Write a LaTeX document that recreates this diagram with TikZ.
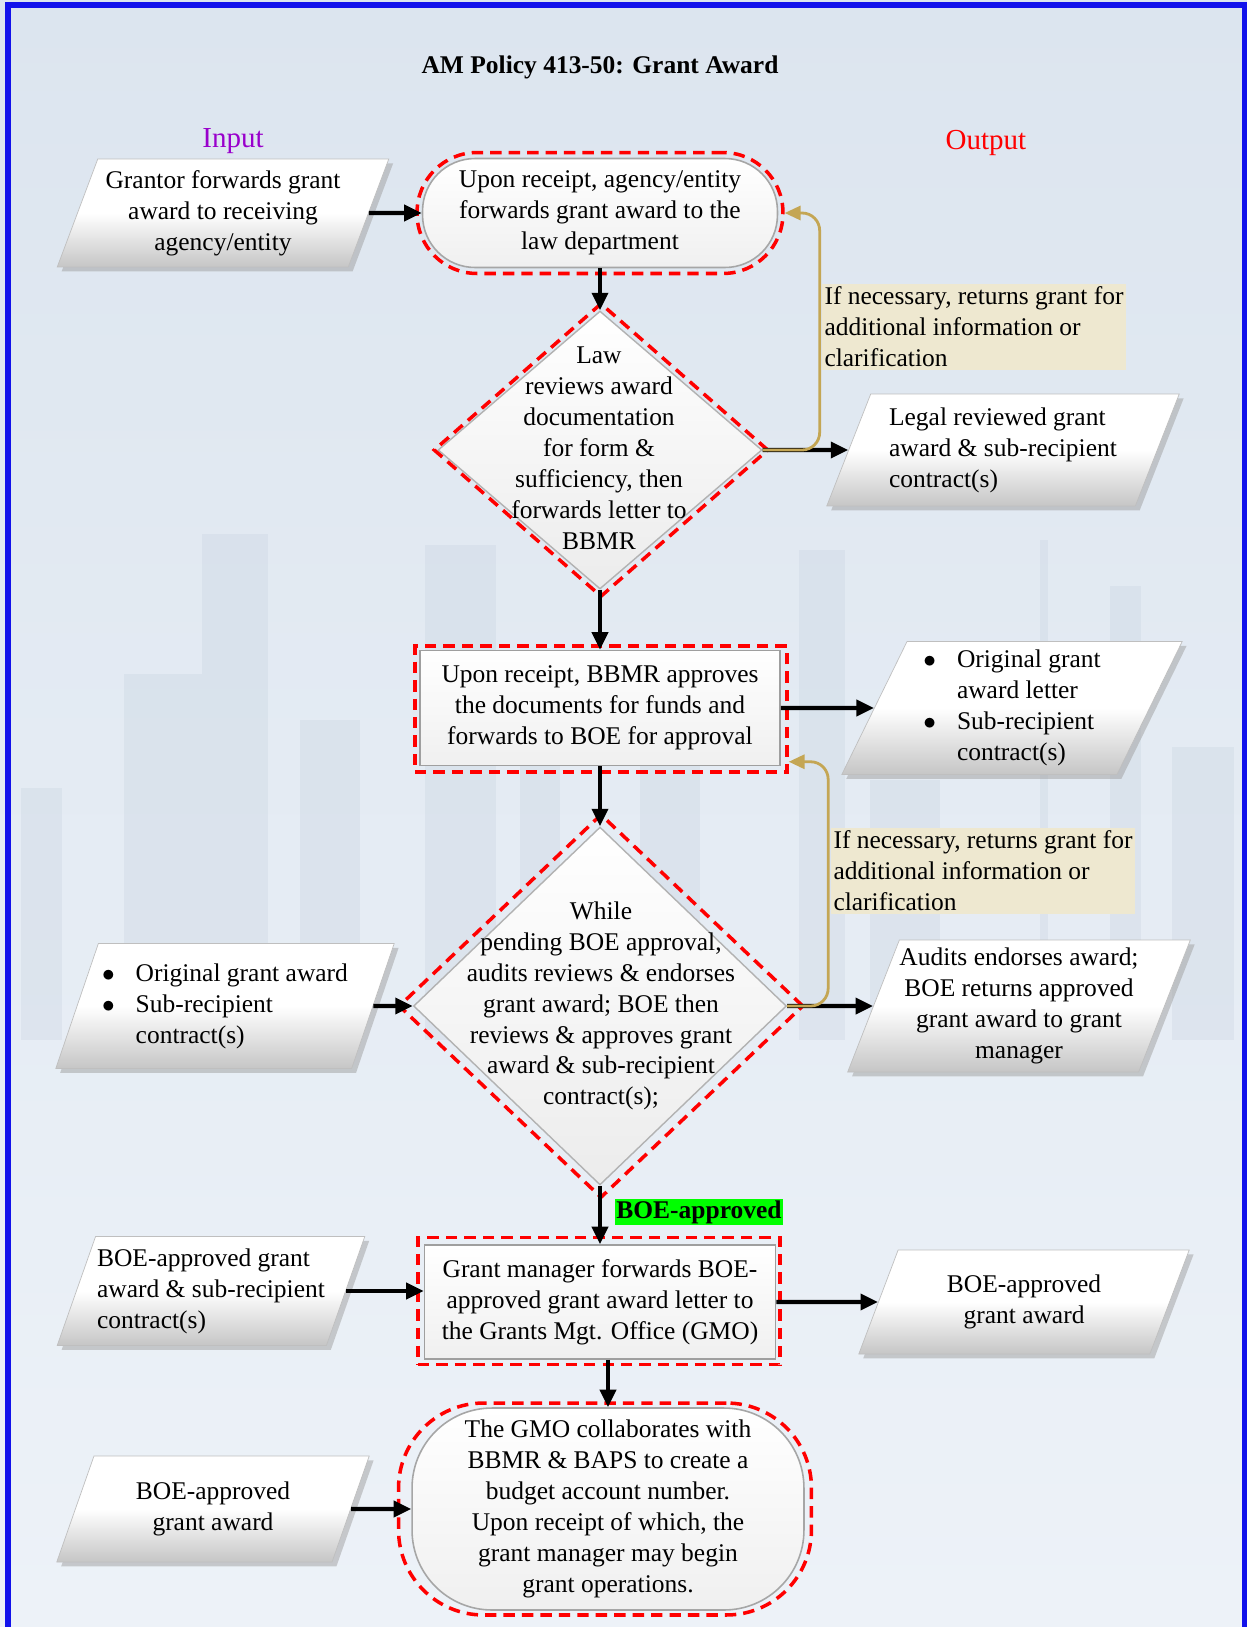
\documentclass[tikz,border=0pt]{standalone}
\usepackage{fontspec}
\setmainfont{Liberation Serif}
\usepackage{tikz}
\usetikzlibrary{arrows.meta,shapes.geometric,shadows}
\definecolor{marco}{RGB}{18,18,235}
\definecolor{fondoa}{RGB}{220,229,239}
\definecolor{fondob}{RGB}{237,242,248}
\definecolor{ciudad}{RGB}{186,199,215}
\definecolor{nota}{RGB}{238,232,208}
\definecolor{retorno}{RGB}{196,166,84}
\definecolor{entrada}{RGB}{153,0,204}
\definecolor{verde}{RGB}{0,255,0}
\newcommand{\cuerpo}{\fontsize{14.5}{17.6}\selectfont}

\begin{document}
\begin{tikzpicture}[x=0.02cm, y=-0.02cm,
    every node/.style={font=\cuerpo},
    datos/.style={trapezium, trapezium left angle=66, trapezium right angle=114,
      trapezium stretches=true, draw=gray!50, top color=white, bottom color=gray!45,
      middle color=white, inner sep=0pt, align=center,
      drop shadow={shadow xshift=2.5pt, shadow yshift=-2.5pt, fill=gray!75}},
    proceso/.style={rectangle, draw=gray!75, line width=0.9pt, top color=white,
      bottom color=gray!12, inner sep=0pt, align=center},
    terminal/.style={rectangle, draw=gray!70, line width=0.9pt, top color=white,
      bottom color=gray!12, inner sep=0pt, align=center},
    rombo/.style={diamond, draw=gray!60, line width=0.8pt, top color=white,
      bottom color=gray!15, inner sep=0pt},
    rojo/.style={draw=red, line width=2pt, dash pattern=on 6.5pt off 4pt, inner sep=0pt},
    flecha/.style={draw=black, line width=2.4pt, -{Triangle[length=10pt, width=9pt]}},
    vuelta/.style={draw=retorno, line width=1.6pt, rounded corners=10pt,
      -{Triangle[length=9pt, width=8pt]}},
    aviso/.style={fill=nota, align=left, inner sep=1.5pt}]
  \useasboundingbox (0,0) rectangle (1247,1627);
  % fondo
  \fill[top color=fondoa, bottom color=fondob] (0,0) rectangle (1247,1627);
  \foreach \xa/\xb/\ya in {21/62/788, 124/202/674, 202/268/534, 300/360/720,
      425/496/545, 520/560/760, 640/700/700, 799/845/550, 870/940/780,
      1040/1048/540, 1110/1141/586, 1172/1234/747}
    \fill[ciudad, opacity=0.22] (\xa,\ya) rectangle (\xb,1040);
  \draw[marco, line width=3.5pt] (8,1640) -- (8,5) -- (1245,5) -- (1245,1640);

  % titulos
  \node[font=\cuerpo\bfseries] (titulo) at (600,67) {AM Policy 413-50: Grant Award};
  \node[font=\fontsize{16.5}{20}\selectfont, text=entrada] (rotin) at (233,141) {Input};
  \node[font=\fontsize{16.5}{20}\selectfont, text=red] (rotout) at (986,143) {Output};

  % recepcion
  \node[datos, minimum width=6.64cm, minimum height=2.16cm] (ent1) at (223,213)
    {Grantor forwards grant\\award to receiving\\agency/entity};
  \node[terminal, rounded corners=1.05cm, minimum width=7.1cm, minimum height=2.18cm]
    (inicio) at (600,213) {Upon receipt, agency/entity\\forwards grant award to the\\law department};
  \node[rojo, rounded corners=1.2cm, minimum width=7.32cm, minimum height=2.42cm]
    (inicior) at (600,213) {};

  % revision legal
  \node[rombo, minimum width=6.48cm, minimum height=5.56cm] (ley) at (600,450) {};
  \node[rojo, diamond, minimum width=6.7cm, minimum height=5.88cm] (leyr) at (601,450) {};
  \node[align=center] (leyt) at (599,448)
    {Law\\reviews award\\documentation\\for form \&\\sufficiency, then\\forwards letter to\\BBMR};
  \node[datos, minimum width=7.06cm, minimum height=2.24cm, align=left] (sal1) at (1003,450)
    {Legal reviewed grant\\award \& sub-recipient\\contract(s)};
  \node[aviso] (nota1) at (974,327)
    {If necessary, returns grant for\\additional information or\\clarification};

  % bbmr
  \node[proceso, minimum width=7.2cm, minimum height=2.3cm] (bbmr) at (600,708)
    {Upon receipt, BBMR approves\\the documents for funds and\\forwards to BOE for approval};
  \node[rojo, rectangle, minimum width=7.44cm, minimum height=2.52cm] (bbmrr) at (601,709) {};
  \node[datos, minimum width=6.82cm, minimum height=2.66cm] (sal2) at (1012,708)
    {\begin{tabular}{@{}l@{\hspace{0.42cm}}l@{}}$\bullet$ & Original grant\\ & award letter\\
      $\bullet$ & Sub-recipient\\ & contract(s)\end{tabular}};

  % boe
  \node[rombo, minimum width=7.46cm, minimum height=7.16cm] (boe) at (600,1006) {};
  \node[rojo, diamond, minimum width=8.1cm, minimum height=7.68cm] (boer) at (601,1006) {};
  \node[align=center] (boet) at (601,1006)
    {While\\pending BOE approval,\\audits reviews \& endorses\\grant award; BOE then\\reviews \& approves grant\\award \& sub-recipient\\contract(s);};
  \node[datos, minimum width=6.78cm, minimum height=2.5cm] (ent2) at (225,1006)
    {\begin{tabular}{@{}l@{\hspace{0.42cm}}l@{}}$\bullet$ & Original grant award\\
      $\bullet$ & Sub-recipient\\ & contract(s)\end{tabular}};
  \node[datos, minimum width=6.86cm, minimum height=2.64cm] (sal3) at (1019,1006)
    {Audits endorses award;\\BOE returns approved\\grant award to grant\\manager};
  \node[aviso] (nota2) at (983,871)
    {If necessary, returns grant for\\additional information or\\clarification};
  \node[font=\cuerpo\bfseries, fill=verde, inner sep=1pt] (aprob) at (699,1212) {BOE-approved};

  % gestor
  \node[proceso, minimum width=7.02cm, minimum height=2.28cm] (gestor) at (600,1302)
    {Grant manager forwards BOE-\\approved grant award letter to\\the Grants Mgt. Office (GMO)};
  \node[rojo, rectangle, minimum width=7.24cm, minimum height=2.54cm] (gestorr) at (599,1301) {};
  \node[datos, minimum width=6.16cm, minimum height=2.18cm, align=left] (ent3) at (211,1291)
    {BOE-approved grant\\award \& sub-recipient\\contract(s)};
  \node[datos, minimum width=6.62cm, minimum height=2.08cm] (sal4) at (1024,1302)
    {BOE-approved\\grant award};

  % gmo
  \node[terminal, rounded corners=1.6cm, minimum width=7.84cm, minimum height=4.04cm]
    (gmo) at (608,1509) {The GMO collaborates with\\BBMR \& BAPS to create a\\budget account number.\\Upon receipt of which, the\\grant manager may begin\\grant operations.};
  \node[rojo, rounded corners=1.7cm, minimum width=8.26cm, minimum height=4.24cm]
    (gmor) at (605,1509) {};
  \node[datos, minimum width=6.26cm, minimum height=2.12cm] (ent4) at (213,1509)
    {BOE-approved\\grant award};

  % flechas
  \draw[flecha] (ent1.east) -- (inicio.west);
  \draw[flecha] (inicio.south) -- (ley.north);
  \draw[flecha] (ley.east) -- (sal1.west);
  \draw[vuelta] (ley.east) -- ++(57,0) |- (inicior.east);
  \draw[flecha] (ley.south) -- (bbmr.north);
  \draw[flecha] (bbmr.east) -- (sal2.west);
  \draw[flecha] (bbmr.south) -- (boe.north);
  \draw[flecha] (ent2.east) -- (boe.west);
  \draw[flecha] (boe.east) -- (sal3.west);
  \draw[vuelta] (boe.east) -- ++(41,0) |- ([yshift=0.24cm]bbmrr.south east);
  \draw[flecha] (boe.south) -- (gestor.north);
  \draw[flecha] (ent3.east) -- (ent3.east -| gestor.west);
  \draw[flecha] (gestor.east) -- (sal4.west);
  \draw[flecha] (gestor.south -| gmo.north) -- (gmo.north);
  \draw[flecha] (ent4.east) -- (gmo.west);
\end{tikzpicture}
\end{document}
